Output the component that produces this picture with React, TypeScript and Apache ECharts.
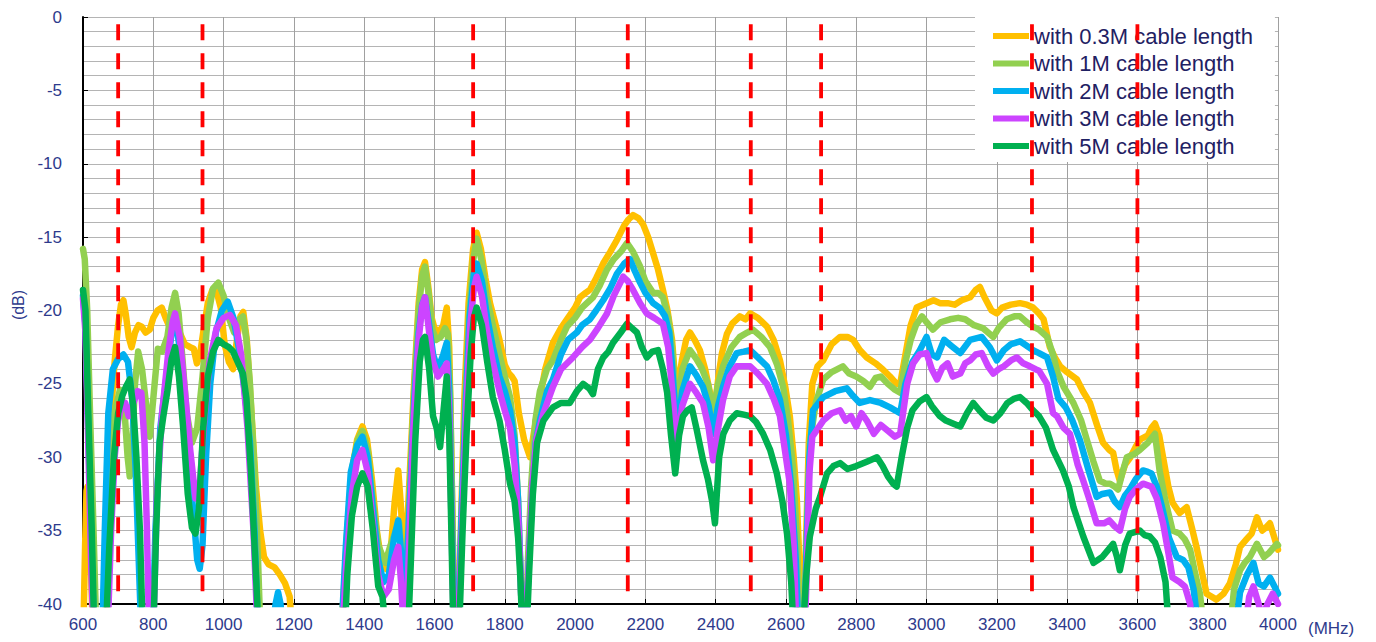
import React, { useEffect, useRef } from "react";
import * as echarts from "echarts";

type Pt = [number, number];

// Frequency span (MHz) and level span (dB)
const freqMin = 600;
const freqMax = 4000;
const dbMin = -40;
const dbMax = 0;

// Band edges marked with red dashed lines (MHz)
const bandEdges = [700, 940, 1710, 2150, 2500, 2700, 3300, 3600];

const seriesNames = [
  "with 0.3M cable length",
  "with 1M cable length",
  "with 2M cable length",
  "with 3M cable length",
  "with 5M cable length",
];
const seriesColors = ["#FFC000", "#92D050", "#00B0F0", "#CC44FF", "#00B050"];

// Measured response per cable length: [MHz, dB]; values under -40 fall off the plot
const cable03m: Pt[] = [
  [601,-42],[606,-36],[610,-32.3],[613,-32],[617,-33.5],[622,-37],[628,-42],[662,-42],[670,-35],[680,-27],[690,-23.5],[700,-21],[708,-19.6],[715,-19.3],[722,-20.3],[730,-21.8],[738,-22.5],[748,-21.5],[758,-21],[767,-21.1],[778,-21.5],[790,-21.3],[800,-20.5],[812,-20],[824,-19.8],[835,-20.5],[848,-21.2],[862,-20.3],[875,-21.5],[890,-22.3],[905,-22.5],[915,-22.6],[924,-23.6],[933,-23],[942,-21.5],[955,-19.5],[968,-18.6],[980,-18.7],[992,-19.8],[1003,-22.3],[1015,-23.5],[1027,-24],[1038,-22],[1048,-20.4],[1056,-20.1],[1066,-22],[1078,-26.5],[1092,-32],[1104,-35],[1115,-36.8],[1128,-37.3],[1145,-37.5],[1160,-38],[1175,-38.6],[1188,-39.5],[1196,-42],
  [1330,-42],[1340,-40],[1352,-35],[1365,-31],[1380,-28.8],[1395,-27.9],[1408,-28.8],[1422,-31.5],[1436,-35],[1450,-37.3],[1462,-37.6],[1475,-36.5],[1487,-33],[1497,-30.9],[1505,-33.5],[1512,-36.5],[1520,-36],[1530,-31],[1542,-25],[1555,-19.5],[1565,-17.2],[1573,-16.7],[1582,-18.3],[1592,-20.5],[1600,-21.2],[1612,-21.5],[1625,-21],[1635,-19.8],[1642,-22.5],[1648,-30],[1654,-38],[1658,-42],[1667,-42],[1675,-35],[1685,-26],[1697,-19.5],[1710,-15.8],[1720,-14.7],[1732,-15.8],[1745,-17.8],[1758,-19.5],[1770,-20.6],[1785,-22],[1800,-23.7],[1812,-24.3],[1820,-24.5],[1828,-24.8],[1840,-27],[1855,-28.8],[1872,-30],[1885,-28],[1900,-26],[1915,-24],[1937,-22.2],[1960,-21.2],[1977,-20.6],[2000,-19.8],[2014,-19.1],[2030,-18.8],[2042,-18.6],[2060,-17.8],[2080,-16.8],[2100,-16],[2119,-15.2],[2140,-14.2],[2152,-13.8],[2165,-13.5],[2180,-13.7],[2193,-14.1],[2208,-15],[2222,-16.1],[2236,-17.2],[2250,-18.6],[2263,-20],[2276,-22],[2284,-24.5],[2290,-26.1],[2297,-24.5],[2304,-23.4],[2316,-22],[2327,-21.5],[2340,-22],[2355,-22.7],[2370,-24],[2384,-25.6],[2398,-26.6],[2408,-24.5],[2418,-22.9],[2432,-21.6],[2447,-20.9],[2469,-20.4],[2485,-20.6],[2498,-20.2],[2520,-20.5],[2546,-21.1],[2565,-22],[2583,-23.4],[2598,-25.2],[2611,-27.2],[2622,-30],[2631,-32.9],[2638,-37],[2643,-42],
  [2650,-42],[2657,-36],[2665,-29],[2675,-25],[2690,-23.8],[2706,-23.4],[2730,-22.3],[2754,-21.8],[2775,-21.8],[2791,-22],[2810,-22.7],[2830,-23.2],[2855,-23.6],[2875,-24],[2896,-24.5],[2915,-25],[2925,-25],[2940,-23],[2955,-21],[2972,-19.8],[3000,-19.5],[3020,-19.3],[3038,-19.5],[3060,-19.5],[3080,-19.6],[3100,-19.3],[3124,-19.1],[3140,-18.6],[3152,-18.4],[3165,-19.1],[3185,-20],[3200,-20.2],[3215,-19.8],[3240,-19.6],[3266,-19.5],[3285,-19.6],[3303,-19.8],[3320,-20.2],[3333,-20.6],[3351,-22.5],[3365,-23.2],[3380,-23.8],[3400,-24.2],[3428,-24.7],[3445,-25.5],[3465,-26.3],[3485,-27.8],[3502,-29],[3520,-29.5],[3531,-29.7],[3540,-30.8],[3550,-31.6],[3565,-30.5],[3580,-30],[3595,-29.3],[3607,-28.8],[3630,-28.5],[3640,-28],[3650,-27.7],[3662,-28.5],[3673,-30],[3688,-32],[3700,-33.1],[3720,-33.8],[3740,-33.4],[3755,-34.8],[3768,-36.1],[3785,-38],[3797,-39.3],[3825,-39.7],[3845,-39.3],[3863,-38.6],[3880,-37.3],[3892,-36.1],[3910,-35.6],[3925,-35.2],[3940,-34.1],[3955,-35],[3965,-34.8],[3977,-34.5],[3990,-35.5],[4000,-36.3],
];

const cable1m: Pt[] = [
  [600,-15.8],[605,-16.5],[612,-20],[620,-27],[630,-35],[638,-42],[668,-42],[678,-33],[690,-27],[705,-25.4],[718,-26.8],[727,-30],[733,-31.3],[740,-29],[748,-25],[757,-22.8],[768,-24],[780,-26.5],[790,-28.6],[800,-26],[813,-22.6],[825,-22.8],[840,-21.8],[852,-19.8],[862,-18.8],[872,-20.2],[882,-23],[895,-27],[910,-29],[925,-28],[940,-24.5],[955,-20.5],[970,-18.5],[985,-18.1],[1000,-19],[1015,-20.5],[1030,-21.5],[1045,-20.6],[1055,-20.4],[1065,-22],[1075,-25],[1088,-31],[1098,-37],[1105,-42],
  [1335,-42],[1342,-40],[1352,-35],[1368,-30.5],[1382,-28.8],[1395,-28.2],[1410,-29.5],[1425,-33],[1440,-36],[1460,-37.2],[1475,-36],[1490,-35],[1500,-34.5],[1508,-37],[1515,-38],[1522,-36.5],[1532,-31],[1543,-25],[1555,-20],[1565,-17.6],[1573,-17],[1583,-18.8],[1594,-21.3],[1605,-22],[1618,-21.8],[1630,-21.2],[1638,-21.6],[1645,-26],[1651,-34],[1656,-42],[1667,-42],[1676,-35],[1686,-27],[1698,-20.5],[1710,-16.6],[1720,-15.1],[1733,-16.5],[1748,-19],[1766,-21],[1785,-23],[1800,-24.5],[1815,-25.9],[1828,-28.5],[1838,-33],[1845,-38],[1850,-42],[1860,-42],[1866,-37],[1875,-32],[1887,-27.5],[1900,-25.5],[1920,-24],[1937,-23.4],[1960,-22],[1977,-21.1],[2000,-20.5],[2020,-19.8],[2051,-19.1],[2070,-18.3],[2091,-17.2],[2110,-16.5],[2130,-16],[2148,-15.4],[2165,-16],[2185,-17],[2200,-18],[2222,-18.8],[2236,-18.8],[2250,-19.1],[2265,-20.5],[2276,-22.5],[2290,-27.2],[2305,-24],[2327,-22.7],[2345,-23.3],[2360,-23.9],[2378,-25],[2393,-27],[2407,-25],[2421,-23.8],[2445,-22.5],[2469,-21.8],[2490,-21.5],[2506,-21.3],[2530,-21.8],[2555,-22.5],[2575,-23.7],[2592,-25.2],[2606,-27.5],[2620,-30.7],[2632,-36],[2640,-42],
  [2652,-42],[2660,-35],[2668,-29],[2685,-26.3],[2706,-24.7],[2730,-24.2],[2762,-23.8],[2780,-24.3],[2800,-24.5],[2820,-24.8],[2839,-25.2],[2855,-24.6],[2870,-24.5],[2890,-25],[2910,-25.4],[2925,-25.6],[2940,-23.5],[2955,-22],[2970,-21],[2987,-20.4],[3000,-20.8],[3018,-21.3],[3040,-20.8],[3067,-20.6],[3090,-20.5],[3110,-20.6],[3135,-21],[3160,-21.2],[3190,-21.8],[3205,-21.2],[3228,-20.6],[3250,-20.4],[3266,-20.4],[3285,-20.8],[3303,-21.1],[3320,-21.3],[3343,-21.8],[3360,-23],[3371,-24.1],[3390,-25.2],[3418,-26.3],[3440,-27.5],[3456,-28.8],[3475,-30.3],[3493,-31.6],[3510,-31.8],[3522,-31.8],[3535,-32],[3545,-32.2],[3558,-31],[3570,-30],[3590,-29.8],[3607,-29.5],[3630,-29],[3650,-28.4],[3663,-30.9],[3680,-33],[3700,-35],[3720,-35.2],[3735,-35.6],[3750,-36.3],[3765,-38],[3778,-39.3],[3790,-42],[3862,-42],[3875,-39],[3892,-37.7],[3905,-37.2],[3920,-36.8],[3940,-35.9],[3960,-36.8],[3975,-36.5],[3997,-35.9],[4000,-36],
];

const cable2m: Pt[] = [
  [600,-19],[607,-21],[615,-28],[625,-37],[632,-42],[655,-42],[662,-35],[672,-27],[685,-24],[700,-23.3],[715,-23],[728,-23.5],[740,-26],[750,-31],[760,-38],[766,-42],[798,-42],[806,-35],[820,-28],[840,-24],[852,-21.5],[862,-20.6],[875,-22.5],[888,-26.5],[900,-30],[915,-34],[925,-37],[932,-37.6],[940,-36],[950,-30],[962,-25],[978,-21.5],[995,-20],[1012,-19.4],[1028,-20.5],[1045,-22.8],[1060,-25.5],[1075,-29],[1088,-35],[1098,-42],[1138,-42],[1148,-40],[1155,-39.2],[1162,-40],[1170,-42],
  [1335,-42],[1348,-36],[1362,-31],[1380,-29.2],[1395,-28.6],[1410,-30],[1425,-33.5],[1440,-37],[1455,-38.5],[1470,-38],[1485,-35.5],[1497,-34.3],[1505,-36.5],[1514,-39.5],[1522,-37],[1532,-32],[1543,-26],[1555,-21.5],[1565,-19.6],[1573,-19.1],[1585,-21],[1596,-23],[1610,-24],[1625,-23],[1635,-22.2],[1642,-25.5],[1649,-34],[1656,-42],[1667,-42],[1677,-34],[1688,-27],[1700,-20.5],[1712,-17.5],[1720,-16.8],[1735,-18],[1750,-20.5],[1766,-22.5],[1785,-24.5],[1800,-25.5],[1815,-26.8],[1828,-29],[1838,-33],[1845,-38],[1850,-42],[1860,-42],[1867,-38],[1877,-33],[1888,-29],[1900,-27.5],[1920,-25.5],[1937,-24.7],[1960,-23],[1980,-22],[2005,-21.5],[2020,-21],[2042,-20.6],[2060,-20],[2080,-19.3],[2100,-18.5],[2119,-17.5],[2140,-16.8],[2156,-16.5],[2170,-17.3],[2185,-18.1],[2200,-18.8],[2222,-19.5],[2240,-19.8],[2256,-20.4],[2268,-21.5],[2276,-23.8],[2290,-28.4],[2305,-25.5],[2327,-23.8],[2345,-24.4],[2364,-25.2],[2380,-26.5],[2393,-28.4],[2407,-26.5],[2421,-25.2],[2440,-23.8],[2460,-22.9],[2480,-22.8],[2498,-22.7],[2520,-23.2],[2546,-23.8],[2565,-24.8],[2583,-26.1],[2600,-28.5],[2615,-32],[2628,-37],[2636,-42],
  [2652,-42],[2659,-36],[2667,-30],[2677,-26.8],[2706,-25.9],[2740,-25.5],[2773,-25.3],[2790,-25.8],[2810,-26.3],[2839,-26.1],[2870,-26.3],[2896,-26.6],[2925,-27],[2940,-25],[2960,-23.5],[2981,-22.7],[3000,-21.8],[3015,-23],[3030,-23.2],[3050,-22],[3070,-22.4],[3096,-22.9],[3124,-22],[3157,-21.8],[3180,-22.5],[3200,-23.4],[3220,-22.7],[3240,-22.3],[3266,-22.1],[3285,-22.4],[3303,-22.7],[3320,-22.9],[3343,-23.2],[3360,-24.5],[3375,-26],[3396,-26.6],[3415,-27.5],[3436,-28.8],[3460,-30.8],[3484,-32.7],[3500,-32.5],[3522,-32.4],[3535,-33],[3550,-33.4],[3565,-32.6],[3578,-32.2],[3595,-31.5],[3616,-30.9],[3630,-31],[3640,-31.1],[3655,-32],[3670,-33.4],[3690,-35.5],[3712,-36.8],[3730,-37],[3745,-37.5],[3760,-39],[3775,-42],[3878,-42],[3892,-39.2],[3912,-38],[3930,-37.2],[3945,-38.6],[3960,-38.8],[3977,-38.2],[3990,-38.8],[4000,-39.3],
];

const cable3m: Pt[] = [
  [600,-19.2],[607,-21.5],[615,-29],[624,-38],[630,-42],[670,-42],[680,-35],[690,-30],[700,-27.5],[710,-26.4],[720,-26.3],[730,-27.2],[745,-26.2],[756,-25.5],[766,-25.6],[775,-29],[782,-35],[788,-42],[800,-42],[810,-33],[825,-27],[842,-23],[855,-20.8],[862,-20.2],[875,-21.8],[890,-25.5],[905,-29.5],[920,-32.8],[932,-32],[945,-27.5],[960,-23.5],[980,-21.2],[1000,-20.5],[1018,-20.3],[1035,-21],[1050,-23],[1068,-28],[1085,-35],[1097,-42],
  [1338,-42],[1350,-37],[1365,-32.5],[1380,-30.2],[1395,-29.5],[1410,-31],[1425,-34.5],[1440,-38],[1455,-39.5],[1470,-39],[1485,-37],[1497,-36.1],[1505,-38.5],[1513,-42],[1520,-41],[1528,-36],[1540,-28],[1555,-22],[1565,-19.7],[1573,-19.1],[1585,-21.5],[1596,-23.5],[1610,-24.5],[1625,-24],[1635,-23.6],[1642,-27],[1649,-35],[1655,-42],[1667,-42],[1678,-35],[1690,-27],[1702,-21],[1712,-18.5],[1720,-17.7],[1735,-19],[1750,-21.5],[1766,-23.5],[1785,-25.5],[1800,-26.8],[1815,-28],[1828,-30.5],[1838,-34],[1845,-38],[1850,-42],[1860,-42],[1867,-38],[1878,-32],[1890,-28.8],[1910,-27],[1937,-25.2],[1960,-24],[1994,-23.2],[2020,-22.5],[2042,-22],[2065,-21.2],[2091,-20.2],[2110,-19],[2137,-17.7],[2150,-18],[2165,-18.6],[2185,-19.5],[2204,-20.2],[2225,-20.5],[2250,-20.9],[2265,-22.5],[2276,-25.3],[2290,-29.3],[2305,-26.5],[2327,-25],[2345,-25.6],[2364,-26.3],[2380,-28],[2393,-30.2],[2407,-28],[2421,-26.1],[2440,-24.5],[2460,-23.8],[2480,-23.8],[2498,-23.8],[2520,-24.3],[2546,-25],[2565,-26],[2583,-27.2],[2597,-29.5],[2611,-31.8],[2622,-36],[2630,-42],
  [2654,-42],[2660,-37],[2667,-31],[2675,-28.6],[2706,-27.5],[2730,-27],[2754,-26.8],[2770,-27.5],[2785,-27.2],[2800,-27.9],[2815,-27],[2830,-27.5],[2850,-28.4],[2870,-27.8],[2890,-28.2],[2910,-28.6],[2925,-28.4],[2945,-25],[2962,-23.6],[2980,-23],[3000,-22.9],[3015,-24],[3030,-24.7],[3045,-23.9],[3060,-23.6],[3075,-24.5],[3096,-24.3],[3110,-23.6],[3124,-23.4],[3140,-23],[3157,-22.9],[3175,-23.8],[3190,-24.3],[3205,-24],[3220,-23.8],[3240,-23.4],[3257,-23.2],[3275,-23.6],[3294,-23.8],[3310,-24],[3320,-24.1],[3343,-25],[3360,-27],[3371,-27.2],[3390,-28],[3408,-28.4],[3430,-30.5],[3446,-31.6],[3465,-33],[3484,-34.5],[3505,-34.5],[3520,-34.3],[3535,-34.7],[3550,-35],[3565,-33.5],[3578,-32.7],[3595,-32.2],[3616,-31.8],[3640,-32],[3655,-32.8],[3673,-34.5],[3688,-36.5],[3700,-38.2],[3720,-38.5],[3735,-38.8],[3750,-40],[3760,-42],[3905,-42],[3918,-39.5],[3930,-38.8],[3945,-40],[3955,-41],[3970,-40],[3985,-39.3],[4000,-40],
];

const cable5m: Pt[] = [
  [600,-18.6],[607,-20],[615,-27],[625,-35],[632,-42],[665,-42],[675,-36],[688,-30],[700,-27],[712,-25.8],[722,-25.2],[733,-24.7],[743,-26.5],[752,-30],[762,-35],[770,-42],[800,-42],[808,-35],[818,-29],[828,-27.3],[840,-25.5],[852,-23.3],[862,-22.5],[873,-24.5],[885,-28],[898,-32.5],[910,-34.8],[920,-35.2],[930,-33.5],[942,-28],[955,-24.5],[970,-22.8],[985,-22],[1000,-22.3],[1015,-22.5],[1027,-22.8],[1040,-23.5],[1055,-24.3],[1065,-26],[1078,-31],[1090,-37],[1100,-42],
  [1345,-42],[1352,-38],[1365,-34],[1380,-32],[1395,-31.1],[1410,-32],[1425,-35],[1440,-38.8],[1452,-39.5],[1462,-42],[1525,-42],[1533,-37],[1545,-29],[1558,-23.5],[1567,-22],[1573,-21.8],[1585,-24],[1596,-27.2],[1606,-28],[1616,-29.3],[1625,-27],[1635,-24.5],[1642,-28.5],[1648,-35],[1654,-42],[1670,-42],[1680,-35],[1692,-28],[1703,-23],[1712,-20.5],[1720,-19.8],[1735,-21],[1750,-23.5],[1766,-25.9],[1785,-27.5],[1800,-29.5],[1815,-31.8],[1828,-33],[1838,-35.5],[1845,-38.5],[1850,-42],[1862,-42],[1869,-38],[1880,-32.5],[1892,-29],[1910,-27.5],[1937,-26.6],[1960,-26.3],[1985,-26.3],[2005,-25.5],[2023,-25],[2040,-25.3],[2051,-25.7],[2065,-24],[2080,-23.2],[2095,-22.8],[2108,-22.2],[2130,-21.5],[2148,-20.9],[2162,-21.2],[2176,-21.5],[2190,-22.5],[2204,-23.2],[2220,-22.8],[2236,-22.7],[2250,-24],[2262,-25.6],[2273,-28.5],[2285,-31.1],[2296,-28.5],[2307,-27.2],[2320,-26.8],[2332,-26.6],[2345,-28],[2364,-30.2],[2378,-31.5],[2390,-33],[2398,-34.5],[2410,-30],[2422,-28.4],[2440,-27.5],[2460,-27],[2480,-27.1],[2498,-27.2],[2515,-27.6],[2535,-28.4],[2555,-29.5],[2574,-31.1],[2590,-33],[2603,-35.2],[2615,-38.5],[2622,-42],
  [2648,-42],[2658,-38],[2668,-35.4],[2685,-33.5],[2697,-32.7],[2717,-31.1],[2735,-30.6],[2754,-30.4],[2775,-30.8],[2800,-30.6],[2830,-30.3],[2859,-30],[2875,-30.6],[2890,-31.3],[2905,-31.8],[2915,-32],[2930,-29.9],[2945,-28],[2960,-26.8],[2980,-26.2],[3000,-25.9],[3015,-26.5],[3038,-27.2],[3055,-27.5],[3075,-27.7],[3096,-27.9],[3115,-27],[3133,-26.3],[3150,-26.8],[3170,-27.3],[3190,-27.5],[3210,-27],[3230,-26.3],[3250,-26],[3266,-25.9],[3285,-26.3],[3303,-26.8],[3320,-27.2],[3340,-28],[3360,-29.5],[3388,-30.9],[3405,-32],[3418,-33.4],[3446,-35.4],[3475,-37.2],[3500,-36.8],[3531,-35.9],[3542,-36.8],[3550,-37.7],[3565,-36],[3578,-35.2],[3607,-35],[3620,-35.3],[3635,-35.4],[3650,-35.8],[3665,-36.8],[3680,-38.5],[3690,-42],
];

const seriesData = [cable03m, cable1m, cable2m, cable3m, cable5m];

const FONT = "'Liberation Sans', Arial, sans-serif";
const AXIS_TEXT = "#2E3A8C";
const LEGEND_TEXT = "#1F2163";

export default function App() {
  const ref = useRef<HTMLDivElement>(null);

  useEffect(() => {
    if (!ref.current) return;
    const chart = echarts.init(ref.current, undefined, { renderer: "svg" });

    const curves = seriesNames.map((name, i) => ({
      type: "line",
      name,
      data: seriesData[i],
      showSymbol: false,
      symbol: "none",
      clip: true,
      z: 2,
      itemStyle: { color: seriesColors[i] },
      lineStyle: { color: seriesColors[i], width: 6.5, cap: "round", join: "round" },
      emphasis: { disabled: true },
    }));

    const edges = bandEdges.map((f) => ({
      type: "line",
      name: "edge-" + f,
      data: [
        [f, -0.5],
        [f, dbMin],
      ],
      showSymbol: false,
      symbol: "none",
      silent: true,
      z: 5,
      lineStyle: { color: "#FF0000", width: 3.8, type: [16, 13] },
      emphasis: { disabled: true },
    }));

    chart.setOption({
      animation: false,
      backgroundColor: "#ffffff",
      textStyle: { fontFamily: FONT },
      grid: { left: 83, right: 98, top: 17, bottom: 38 },
      xAxis: {
        type: "value",
        min: freqMin,
        max: freqMax,
        interval: 200,
        axisLine: { onZero: false, lineStyle: { color: "#000", width: 2 } },
        axisTick: { inside: true, length: 5, lineStyle: { color: "#000" } },
        axisLabel: {
          color: AXIS_TEXT,
          fontSize: 17,
          margin: 12,
          fontFamily: FONT,
          formatter: (v: number) => String(v),
        },
        splitLine: { show: true, lineStyle: { color: "#A0A0A0", width: 1 } },
      },
      yAxis: {
        type: "value",
        min: dbMin,
        max: dbMax,
        interval: 5,
        axisLine: { show: true, onZero: false, lineStyle: { color: "#000", width: 2 } },
        axisTick: { show: true, inside: true, length: 5, lineStyle: { color: "#000" } },
        axisLabel: {
          color: AXIS_TEXT,
          fontSize: 17,
          margin: 21,
          fontFamily: FONT,
          formatter: (v: number) => String(v),
        },
        splitLine: { show: true, lineStyle: { color: "#B4B4B4", width: 1 } },
        minorTick: { show: false, splitNumber: 5 },
        minorSplitLine: { show: true, lineStyle: { color: "#B4B4B4", width: 1 } },
      },
      legend: {
        data: seriesNames,
        orient: "vertical",
        left: 975,
        top: 16,
        padding: [9, 22, 5, 18],
        backgroundColor: "#ffffff",
        icon: "rect",
        itemWidth: 36,
        itemHeight: 6,
        itemGap: 5.5,
        selectedMode: false,
        textStyle: { color: LEGEND_TEXT, fontSize: 22, lineHeight: 20, fontFamily: FONT },
      },
      graphic: [
        {
          type: "text",
          x: 18,
          y: 305,
          rotation: Math.PI / 2,
          style: {
            text: "(dB)",
            fill: AXIS_TEXT,
            font: "16px " + FONT,
            align: "center",
            verticalAlign: "middle",
          },
        },
        {
          type: "text",
          x: 1308,
          y: 628,
          style: {
            text: "(MHz)",
            fill: AXIS_TEXT,
            font: "17px " + FONT,
            align: "left",
            verticalAlign: "middle",
          },
        },
      ],
      series: [...curves, ...edges],
    });

    return () => chart.dispose();
  }, []);

  return (
    <div
      ref={ref}
      style={{ position: "absolute", left: 0, top: 0, width: 1376, height: 642 }}
    />
  );
}
